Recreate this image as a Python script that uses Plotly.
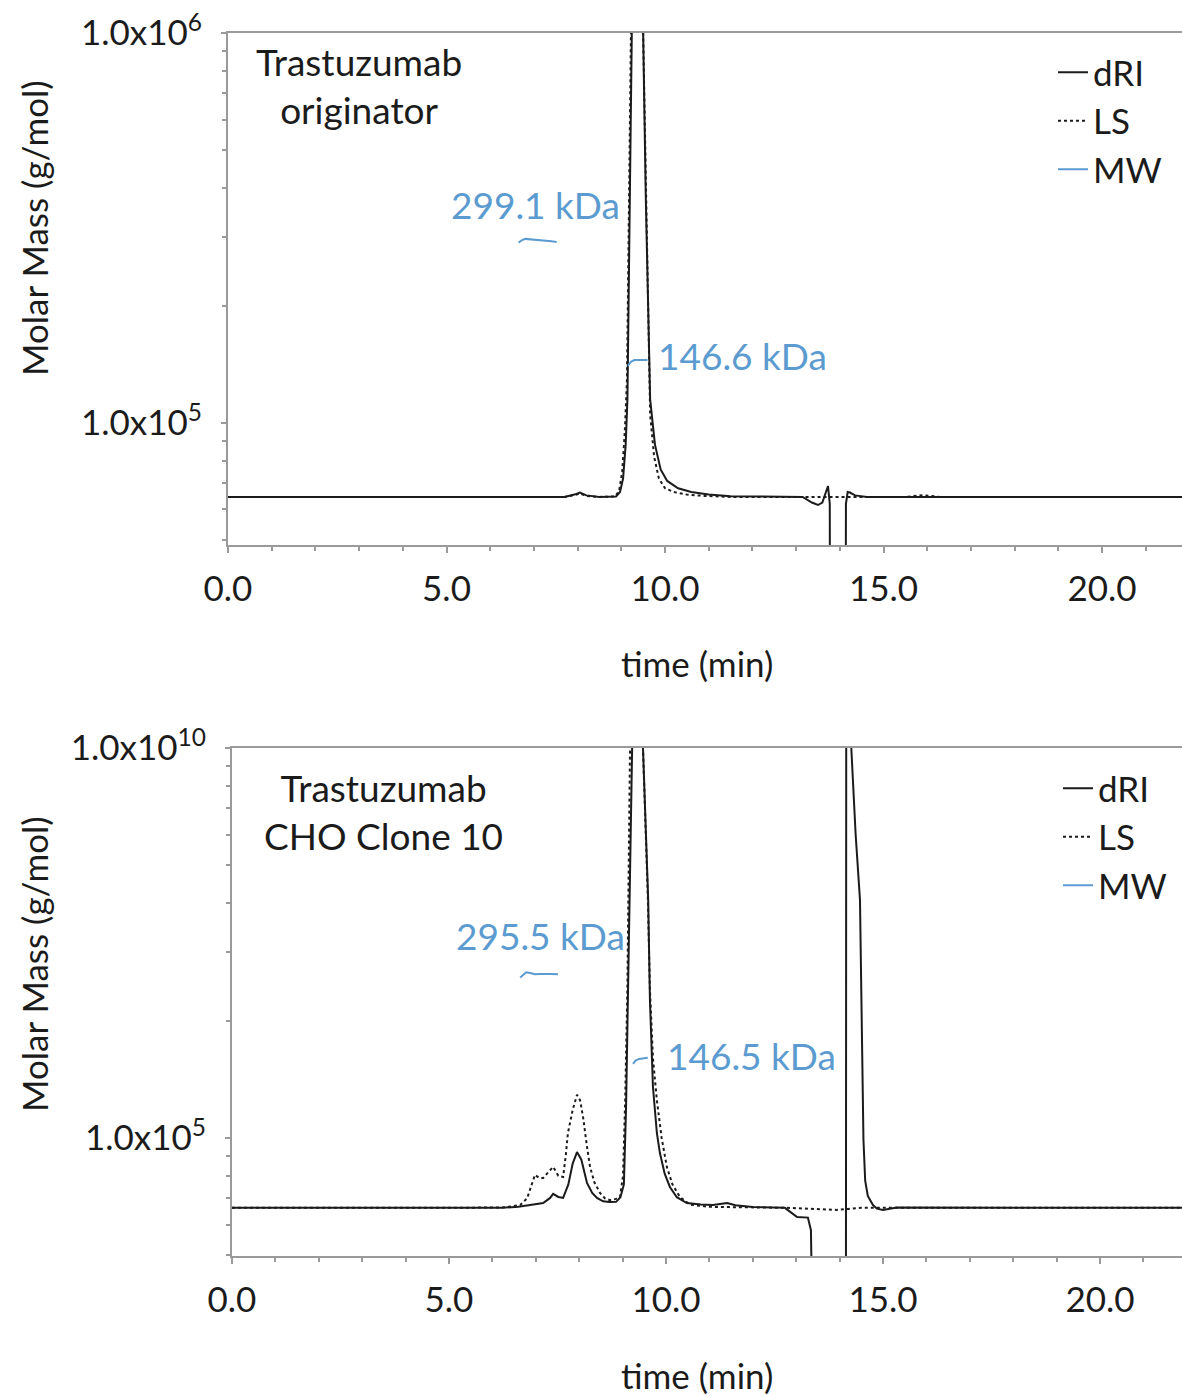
import plotly.graph_objects as go

# ---------------- data: top panel (Trastuzumab originator) ----------------
top_t_dri = [0, 7.7, 7.95, 8.05, 8.2, 8.5, 8.88, 8.97, 9.04, 9.10, 9.14, 9.18, 9.24, 9.30,
             9.37, 9.44, 9.50, 9.56, 9.66, 9.77, 9.90, 10.05, 10.3, 10.6, 11.0, 11.5,
             13.15, 13.36, 13.5, 13.6, 13.68, 13.73, 13.77, 13.80, 14.11, 14.14, 14.18,
             14.23, 14.35, 14.62, 21.9]
top_dri = [64.6e3, 64.6e3, 65.6e3, 66.3e3, 65.2e3, 64.6e3, 64.8e3, 66.5e3, 72e3, 88e3, 115e3,
           250e3, 1.0e6, 6e6, 2e7, 6e6, 1.0e6, 380e3, 115e3, 88e3, 76e3, 71e3, 68e3, 66.5e3,
           65.5e3, 64.9e3, 64.6e3, 62.5e3, 61.6e3, 62.5e3, 66e3, 68.9e3, 62e3, 1e3, 1e3,
           62e3, 66.5e3, 66.3e3, 65.2e3, 64.6e3, 64.6e3]

top_t_ls = [0, 7.7, 7.95, 8.05, 8.2, 8.5, 8.86, 8.95, 9.02, 9.08, 9.13, 9.17, 9.22, 9.30,
            9.38, 9.45, 9.50, 9.57, 9.66, 9.75, 9.86, 10.0, 10.2, 10.5, 10.9, 11.5,
            15.5, 15.9, 16.3, 21.9]
top_ls = [64.6e3, 64.6e3, 65.4e3, 66e3, 65e3, 64.6e3, 64.8e3, 67e3, 75e3, 95e3, 130e3,
          300e3, 1.0e6, 6e6, 1.5e7, 5e6, 1.0e6, 350e3, 105e3, 82e3, 72e3, 68e3, 66.5e3,
          65.5e3, 65e3, 64.6e3, 64.6e3, 65.3e3, 64.6e3, 64.6e3]

top_t_mw = [6.65, 6.72, 6.80, 6.90, 7.00, 7.10, 7.20, 7.30, 7.40, 7.52,
            None, 9.15, 9.22, 9.30, 9.40, 9.50, 9.60]
top_mw = [290e3, 294e3, 296.5e3, 296e3, 294.5e3, 295e3, 294e3, 293e3, 292.5e3, 291e3,
          None, 140e3, 143.5e3, 145e3, 145.3e3, 145.1e3, 145e3]

# ---------------- data: bottom panel (Trastuzumab CHO Clone 10) ----------------
bot_t_dri = [0, 6.2, 6.6, 6.9, 7.17, 7.33, 7.40, 7.52, 7.63, 7.75, 7.85, 7.95, 8.05, 8.18,
             8.30, 8.41, 8.55, 8.70, 8.85, 8.95, 9.03, 9.08, 9.12, 9.17, 9.22, 9.35, 9.47,
             9.59, 9.63, 9.70, 9.79, 9.86, 9.97, 10.09, 10.25, 10.48, 10.8, 11.08, 11.25,
             11.41, 11.6, 12.0, 12.74, 12.88, 13.02, 13.27, 13.34, 13.38, 13.40, 14.14,
             14.16, 14.20, 14.27, 14.37, 14.47, 14.52, 14.55, 14.59, 14.65, 14.77, 14.86,
             15.0, 15.15, 15.32, 21.9]
bot_dri = [66.2e3, 66.2e3, 66.6e3, 67.3e3, 68.1e3, 70.2e3, 71.9e3, 70.6e3, 70.2e3, 76e3,
           86e3, 92e3, 88e3, 76.7e3, 72.3e3, 70.2e3, 68.8e3, 68.5e3, 68.6e3, 70.5e3, 76e3,
           120e3, 226e3, 408e3, 1.0e6, 5e7, 1.0e6, 408e3, 226e3, 135e3, 103e3, 91.5e3,
           81e3, 74.9e3, 70.5e3, 68.1e3, 67.5e3, 67.3e3, 67.8e3, 68.1e3, 67.2e3, 66.5e3,
           66.2e3, 64.5e3, 62.7e3, 62.5e3, 58e3, 3e4, 1e3, 1e3, 5e7, 5e7, 1.0e6, 600e3,
           408e3, 168e3, 99e3, 77.7e3, 71e3, 67.3e3, 65.9e3, 65.4e3, 65.8e3, 66.3e3, 66.2e3]

bot_t_ls = [0, 6.0, 6.24, 6.45, 6.64, 6.80, 6.87, 6.98, 7.08, 7.17, 7.30, 7.40, 7.52, 7.63,
            7.69, 7.74, 7.85, 7.95, 8.02, 8.09, 8.18, 8.25, 8.35, 8.48, 8.60, 8.71, 8.85,
            8.94, 9.01, 9.06, 9.11, 9.16, 9.21, 9.33, 9.47, 9.58, 9.63, 9.70, 9.79, 9.90,
            10.02, 10.15, 10.32, 10.55, 11.0, 12.0, 12.8, 13.4, 13.94, 14.2, 14.5, 21.9]
bot_ls = [66.2e3, 66.2e3, 66.3e3, 66.8e3, 67.3e3, 70e3, 73.6e3, 80.4e3, 79e3, 79e3, 82e3,
          84.3e3, 80e3, 79.4e3, 90e3, 103e3, 118e3, 129e3, 125e3, 113e3, 95e3, 84.3e3,
          77e3, 72.3e3, 69.9e3, 69.3e3, 69.8e3, 70.6e3, 80e3, 125e3, 240e3, 450e3, 1.0e6,
          4e7, 1.0e6, 420e3, 240e3, 160e3, 125e3, 100e3, 84.3e3, 76e3, 70.6e3, 67.5e3,
          66.6e3, 66.5e3, 66.2e3, 65.8e3, 65.4e3, 65.8e3, 66.2e3, 66.2e3]

bot_t_mw = [6.64, 6.70, 6.78, 6.87, 6.98, 7.10, 7.22, 7.35, 7.51,
            None, 9.24, 9.30, 9.38, 9.47, 9.58]
bot_mw = [258e3, 262e3, 266e3, 265e3, 263e3, 263.5e3, 263e3, 263.5e3, 263e3,
          None, 155e3, 158e3, 159.5e3, 160e3, 160.5e3]

x_tickvals = [0, 5, 10, 15, 20]
x_ticktext = ["0.0", "5.0", "10.0", "15.0", "20.0"]
y_tickvals = [1e5, 1e6]
top_y_ticktext = ["1.0x10<sup>5</sup>", "1.0x10<sup>6</sup>"]
bot_y_ticktext = ["1.0x10<sup>5</sup>", "1.0x10<sup>10</sup>"]
y_minor = [5e4, 6e4, 7e4, 8e4, 9e4, 2e5, 3e5, 4e5, 5e5, 6e5, 7e5, 8e5, 9e5]

FONT = "Lato, 'Open Sans', sans-serif"
BLACK = "#1b1b1b"
BLUE = "#5b9bd0"
GREY = "#9a9a9a"
W, H = 1182, 1396

fig = go.Figure()

def add_panel(t_dri, dri, t_ls, ls, t_mw, mw, xa, ya, leg):
    fig.add_trace(go.Scatter(x=t_dri, y=dri, mode="lines", name="dRI", xaxis=xa, yaxis=ya,
                             line=dict(color=BLACK, width=2), legend=leg))
    fig.add_trace(go.Scatter(x=t_ls, y=ls, mode="lines", name="LS", xaxis=xa, yaxis=ya,
                             line=dict(color=BLACK, width=2, dash="dot"), legend=leg))
    fig.add_trace(go.Scatter(x=t_mw, y=mw, mode="lines", name="MW", xaxis=xa, yaxis=ya,
                             line=dict(color=BLUE, width=2), connectgaps=False, legend=leg))

add_panel(top_t_dri, top_dri, top_t_ls, top_ls, top_t_mw, top_mw, "x", "y", "legend")
add_panel(bot_t_dri, bot_dri, bot_t_ls, bot_ls, bot_t_mw, bot_mw, "x2", "y2", "legend2")

def xaxis_style(domain, rng, anchor):
    return dict(domain=domain, range=rng, anchor=anchor, showgrid=False, zeroline=False,
                automargin=False,
                showline=True, linecolor=GREY, linewidth=2, mirror=True,
                ticks="outside", ticklen=6, tickwidth=1.5, tickcolor=GREY,
                tickvals=x_tickvals, ticktext=x_ticktext, ticklabelstandoff=6,
                tickfont=dict(family=FONT, size=35, color=BLACK),
                minor=dict(dtick=1, ticks="outside", ticklen=4, tickwidth=1.5, tickcolor=GREY))

def yaxis_style(domain, rng, anchor, ticktext):
    return dict(domain=domain, range=rng, anchor=anchor, type="log", showgrid=False,
                zeroline=False, showline=True, linecolor=GREY, linewidth=2,
                automargin=False,
                ticks="outside", ticklen=5, tickwidth=1.5, tickcolor=GREY,
                tickvals=y_tickvals, ticktext=ticktext, ticklabelstandoff=12,
                tickfont=dict(family=FONT, size=35, color=BLACK),
                minor=dict(tickvals=y_minor, ticks="outside", ticklen=4, tickwidth=1.5,
                           tickcolor=GREY))

fig.update_layout(
    width=W, height=H, margin=dict(l=0, r=0, t=0, b=0, autoexpand=False),
    paper_bgcolor="white", plot_bgcolor="white",
    font=dict(family=FONT, color=BLACK),
    xaxis=xaxis_style([228 / W, 1], [0, 21.83], "y"),
    yaxis=yaxis_style([(H - 545) / H, (H - 33) / H], [4.687, 6.0], "x", top_y_ticktext),
    xaxis2=xaxis_style([232 / W, 1], [0, 21.89], "y2"),
    yaxis2=yaxis_style([(H - 1256) / H, (H - 748) / H], [4.6974, 6.0], "x2", bot_y_ticktext),
    legend=dict(x=1053 / W, y=1 - 43 / H, xanchor="left", yanchor="top",
                bgcolor="rgba(0,0,0,0)", font=dict(family=FONT, size=35, color=BLACK),
                itemwidth=30, tracegroupgap=0),
    legend2=dict(x=1058 / W, y=1 - 759 / H, xanchor="left", yanchor="top",
                 bgcolor="rgba(0,0,0,0)", font=dict(family=FONT, size=35, color=BLACK),
                 itemwidth=30, tracegroupgap=0),
)

ann = []
def text(x, y, s, size=35, color=BLACK, xanchor="center", angle=0):
    ann.append(dict(x=x / W, y=1 - y / H, xref="paper", yref="paper", text=s,
                    showarrow=False, xanchor=xanchor, yanchor="middle", align="center",
                    textangle=angle, font=dict(family=FONT, size=size, color=color)))

text(359, 86, "Trastuzumab<br>originator", size=37)
text(383, 812, "Trastuzumab<br>CHO Clone 10", size=37)
text(535, 204, "299.1 kDa", size=37, color=BLUE)
text(656, 355, "146.6 kDa", size=37, color=BLUE, xanchor="left")
text(540, 935, "295.5 kDa", size=37, color=BLUE)
text(665, 1055, "146.5 kDa", size=37, color=BLUE, xanchor="left")
text(697, 663, "time (min)", size=35)
text(697, 1375, "time (min)", size=35)
text(34, 228, "Molar Mass (g/mol)", size=35, angle=-90)
text(34, 964, "Molar Mass (g/mol)", size=35, angle=-90)
fig.update_layout(annotations=ann)

fig.write_html("out.html")
